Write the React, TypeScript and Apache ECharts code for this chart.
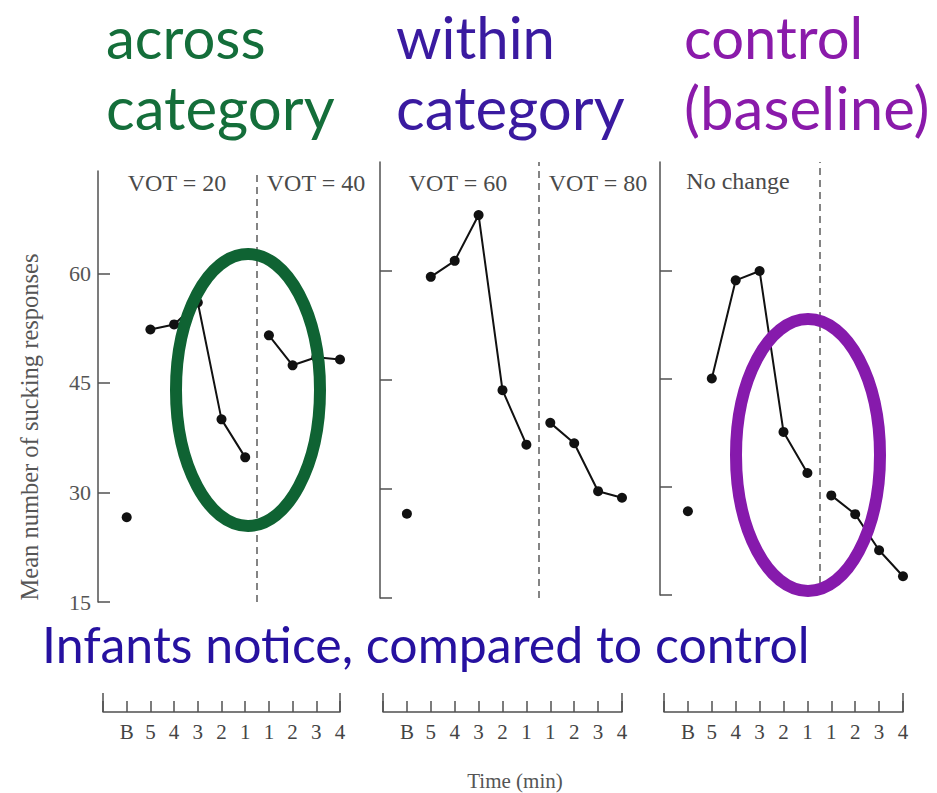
import React, { useEffect, useRef } from "react";
import * as echarts from "echarts";

const xLabels = ["B", "5", "4", "3", "2", "1", "1", "2", "3", "4"];
const xPositions = [0, 1, 2, 3, 4, 5, 6, 7, 8, 9];
const yTicks = [15, 30, 45, 60];

const acrossValues = [26.6, 52.3, 53.0, 56.0, 40.0, 34.8, 51.5, 47.4, 48.5, 48.2];
const withinValues = [26.6, 59.2, 61.4, 67.7, 43.6, 36.1, 39.1, 36.3, 29.7, 28.8];
const controlValues = [26.6, 45.0, 58.6, 59.9, 37.6, 31.9, 28.8, 26.2, 21.2, 17.6];

const panelValues = [acrossValues, withinValues, controlValues];
const panelYMax = [74, 75, 75];

const SERIF = "Liberation Serif";
const SANS = "Lato";
const INK = "#111";
const GRAY = "#505050";

export default function App() {
  const ref = useRef<HTMLDivElement>(null);

  useEffect(() => {
    document.body.style.margin = "0";
    const chart = echarts.init(ref.current!, null, { renderer: "svg" });

    const grids = [
      { left: 103, top: 171, width: 237, height: 431 },
      { left: 383, top: 162, width: 239, height: 436 },
      { left: 664, top: 162, width: 239, height: 433 },
    ];
    const yOffsets = [5, 3, 4];
    const axisBottomY = 712;

    const xAxis: any[] = [];
    const yAxis: any[] = [];
    const series: any[] = [];

    grids.forEach((g, i) => {
      const bottom = g.top + g.height;
      const off = axisBottomY - bottom;
      xAxis.push({
        gridIndex: i,
        type: "value",
        position: "bottom",
        min: -1,
        max: 9,
        interval: 1,
        offset: off,
        splitLine: { show: false },
        axisLine: { show: true, onZero: false, lineStyle: { color: GRAY, width: 1.5 } },
        axisTick: { show: true, inside: true, length: 11, lineStyle: { color: GRAY, width: 1.5 } },
        axisLabel: {
          show: true,
          margin: 9,
          color: "#444",
          fontFamily: SERIF,
          fontSize: 21,
          formatter: (v: number) => {
            const k = Math.round(v);
            return k >= 0 && k < xLabels.length ? xLabels[k] : "";
          },
        },
      });
      xAxis.push({
        gridIndex: i,
        type: "value",
        position: "bottom",
        min: -1,
        max: 9,
        interval: 10,
        offset: off,
        splitLine: { show: false },
        axisLine: { show: false, onZero: false },
        axisTick: { show: true, inside: true, length: 19, lineStyle: { color: GRAY, width: 1.5 } },
        axisLabel: { show: false },
      });
      yAxis.push({
        gridIndex: i,
        type: "value",
        position: "left",
        min: 15,
        max: panelYMax[i],
        interval: 15,
        offset: yOffsets[i],
        splitLine: { show: false },
        axisLine: { show: true, onZero: false, lineStyle: { color: GRAY, width: 1.5 } },
        axisTick: {
          show: true,
          inside: true,
          length: 12,
          customValues: yTicks,
          lineStyle: { color: GRAY, width: 1.5 },
        },
        axisLabel: {
          show: i === 0,
          customValues: yTicks,
          margin: 7,
          color: "#555",
          fontFamily: SERIF,
          fontSize: 22,
        },
      });

      const vals = panelValues[i];
      const pts = xPositions.map((x, k) => [x, vals[k]]);
      const lineStyle = { color: INK, width: 2 };
      const itemStyle = { color: INK, opacity: 1 };
      series.push({
        type: "scatter",
        xAxisIndex: 2 * i,
        yAxisIndex: i,
        data: pts.slice(0, 1),
        symbol: "circle",
        symbolSize: 10,
        itemStyle,
        silent: true,
      });
      series.push({
        type: "line",
        xAxisIndex: 2 * i,
        yAxisIndex: i,
        data: pts.slice(1, 6),
        symbol: "circle",
        symbolSize: 10,
        showSymbol: true,
        lineStyle,
        itemStyle,
        silent: true,
      });
      series.push({
        type: "line",
        xAxisIndex: 2 * i,
        yAxisIndex: i,
        data: pts.slice(6),
        symbol: "circle",
        symbolSize: 10,
        showSymbol: true,
        lineStyle,
        itemStyle,
        silent: true,
        markLine: {
          silent: true,
          symbol: "none",
          label: { show: false },
          lineStyle: { type: [7, 5], color: "#666", width: 1.6 },
          data: [{ xAxis: 5.5 }],
        },
      });
    });

    const serifLabel = (text: string, x: number, y: number) => ({
      type: "text",
      x,
      y,
      style: {
        text,
        fill: "#4a4a4a",
        font: `24px "${SERIF}"`,
        align: "center",
        verticalAlign: "middle",
      },
    });

    const header = (text: string, x: number, baseline: number, fill: string, size: number) => ({
      type: "text",
      x,
      y: baseline - 0.37 * size,
      style: {
        text,
        fill,
        font: `${size}px "${SANS}"`,
        align: "left",
        verticalAlign: "middle",
      },
    });

    const option: any = {
      animation: false,
      backgroundColor: "#ffffff",
      grid: grids,
      xAxis,
      yAxis,
      series,
      graphic: [
        header("across", 106, 58, "#146e3a", 58),
        header("category", 106, 129, "#146e3a", 60),
        header("within", 396, 58, "#3a1aa0", 58),
        header("category", 396, 129, "#3a1aa0", 60),
        header("control", 684, 58, "#8a1aaa", 58),
        header("(baseline)", 684, 129, "#8a1aaa", 60),
        header("Infants notice, compared to control", 42, 662, "#2611a0", 50),
        serifLabel("VOT = 20", 177, 183),
        serifLabel("VOT = 40", 316, 183),
        serifLabel("VOT = 60", 458, 183),
        serifLabel("VOT = 80", 598, 183),
        serifLabel("No change", 738, 181),
        {
          type: "text",
          x: 29,
          y: 427,
          rotation: Math.PI / 2,
          style: {
            text: "Mean number of sucking responses",
            fill: "#555",
            font: `24.5px "${SERIF}"`,
            align: "center",
            verticalAlign: "middle",
          },
        },
        {
          type: "text",
          x: 515,
          y: 781,
          style: {
            text: "Time (min)",
            fill: "#555",
            font: `21px "${SERIF}"`,
            align: "center",
            verticalAlign: "middle",
          },
        },
        {
          type: "ellipse",
          z: 100,
          shape: { cx: 248, cy: 390, rx: 72, ry: 136 },
          style: { fill: "none", stroke: "#0f6333", lineWidth: 12 },
        },
        {
          type: "ellipse",
          z: 100,
          shape: { cx: 808, cy: 455, rx: 72, ry: 136 },
          style: { fill: "none", stroke: "#861aac", lineWidth: 12 },
        },
      ],
    };

    chart.setOption(option);
    return () => chart.dispose();
  }, []);

  return (
    <div
      ref={ref}
      style={{ position: "fixed", left: 0, top: 0, width: 937, height: 793 }}
    />
  );
}
